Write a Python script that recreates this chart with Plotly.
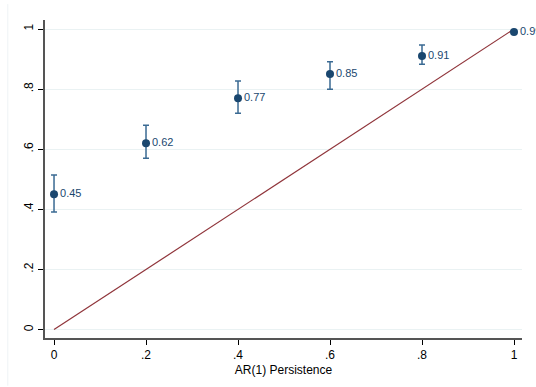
import plotly.graph_objects as go

# AR(1) persistence vs estimated value with 95% CIs
persistence = [0.0, 0.2, 0.4, 0.6, 0.8, 1.0]
estimate = [0.45, 0.62, 0.77, 0.85, 0.91, 0.99]
ci_low = [0.391, 0.57, 0.72, 0.80, 0.883, 0.99]
ci_high = [0.514, 0.68, 0.827, 0.891, 0.947, 0.99]
labels = ["0.45", "0.62", "0.77", "0.85", "0.91", "0.99"]

x_ticks = [0, 0.2, 0.4, 0.6, 0.8, 1]
x_ticktext = ["0", ".2", ".4", ".6", ".8", "1"]
y_ticks = [0, 0.2, 0.4, 0.6, 0.8, 1]
y_ticktext = ["0", ".2", ".4", ".6", ".8", "1"]

navy = "#1a476f"
maroon = "#90353b"

fig = go.Figure()

# 45-degree reference line
fig.add_trace(go.Scatter(
    x=[0, 1], y=[0, 1], mode="lines",
    line=dict(color=maroon, width=1.2),
    hoverinfo="skip", showlegend=False,
))

# Point estimates with confidence intervals
fig.add_trace(go.Scatter(
    x=persistence, y=estimate,
    mode="markers+text",
    marker=dict(color=navy, size=8),
    error_y=dict(
        type="data", symmetric=False,
        array=[h - e for h, e in zip(ci_high, estimate)],
        arrayminus=[e - l for e, l in zip(estimate, ci_low)],
        color="#3a6a93", thickness=1.5, width=3,
    ),
    text=labels, textposition="middle right",
    textfont=dict(color=navy, size=11, family="Liberation Sans, Arial, sans-serif"),
    cliponaxis=False, showlegend=False,
))

fig.update_layout(
    width=536, height=387,
    margin=dict(l=45, r=14, t=20, b=49),
    paper_bgcolor="white", plot_bgcolor="white",
    font=dict(family="Liberation Sans, Arial, sans-serif", size=12, color="#000000"),
    xaxis=dict(
        range=[-0.0196, 1.0174],
        tickvals=x_ticks, ticktext=x_ticktext,
        ticks="outside", ticklen=5, tickcolor="#000000", tickwidth=1,
        showline=True, linecolor="#555555", linewidth=1.5,
        showgrid=False, zeroline=False,
        title=dict(text="AR(1) Persistence", standoff=4, font=dict(size=12)),
    ),
    yaxis=dict(
        range=[-0.028, 1.03],
        tickvals=y_ticks, ticktext=y_ticktext, tickangle=-90,
        ticks="outside", ticklen=5, tickcolor="#000000", tickwidth=1,
        showline=True, linecolor="#555555", linewidth=1.5,
        showgrid=True, gridcolor="#eaf2f3", gridwidth=1,
        zeroline=False,
    ),
    shapes=[dict(
        type="line", xref="paper", yref="paper",
        x0=-0.078, x1=-0.078, y0=-0.15, y1=1.05,
        line=dict(color="#eef3f5", width=1),
    )],
)

fig.write_html("out.html")
